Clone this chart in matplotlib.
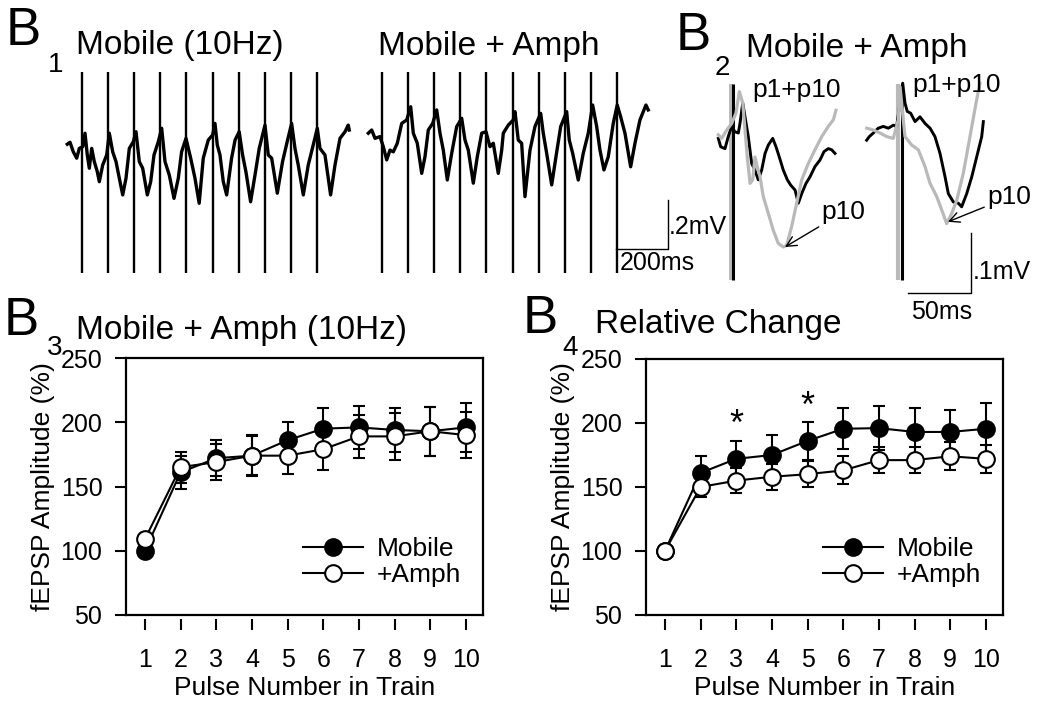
import matplotlib
matplotlib.use('Agg')
import matplotlib.pyplot as plt

plt.rcParams['font.family'] = ['Liberation Sans', 'DejaVu Sans']

W, H = 1037, 708

# ---- B1: 10 Hz field recordings (ms from 1st stimulus, mV) ----
stim_ms = [0, 100, 200, 300, 400, 500, 600, 700, 800, 900]
artifact_top, artifact_bot = 0.29, -0.53

mobile_t = [-56.3, -46.0, -33.3, -20.3, -10.3, 2.7, 11.5, 20.3, 28.0, 37.2, 47.1, 58.6,
            66.3, 79.3, 94.6, 104.6, 117.6, 130.3, 143.0, 156.0, 168.6, 181.3, 196.5,
            206.9, 219.5, 232.5, 250.2, 263.2, 275.8, 292.3, 305.3, 318.0, 334.5, 352.5,
            368.9, 381.6, 398.4, 416.4, 432.9, 449.0, 464.6, 483.8, 500.6, 509.5, 518.3,
            528.7, 541.3, 554.3, 573.1, 586.5, 602.2, 615.3, 628.0, 646.0, 662.8, 679.1,
            701.1, 713.7, 726.7, 748.3, 768.4, 786.1, 803.2, 816.0, 828.5, 847.9, 866.8,
            885.9, 901.5, 911.8, 931.0, 952.5, 969.3, 988.5, 1007.7, 1020.1, 1024.0]
mobile_mv = [-0.005, 0.003, -0.036, -0.062, -0.022, -0.015, 0.040, -0.049, -0.103, -0.022,
             -0.076, -0.117, -0.158, -0.090, -0.049, 0.040, -0.036, -0.076, -0.144, -0.212,
             -0.144, -0.022, 0.005, 0.046, -0.076, -0.103, -0.212, -0.158, -0.049, 0.005,
             0.060, -0.076, -0.131, -0.226, -0.144, -0.036, 0.019, -0.062, -0.144, -0.246,
             -0.062, 0.012, 0.033, 0.080, -0.008, -0.049, -0.158, -0.212, -0.062, 0.012,
             0.046, -0.049, -0.117, -0.240, -0.131, -0.022, 0.073, -0.049, -0.062, -0.205,
             -0.076, 0.005, 0.080, -0.022, -0.090, -0.212, -0.090, -0.008, 0.060, -0.022,
             -0.049, -0.212, -0.090, 0.019, 0.046, 0.073, 0.053]

amph_t = [-52.5, -39.5, -26.8, -7.7, 5.0, 18.0, 30.6, 43.3, 58.6, 75.5, 94.6, 110.0,
          119.9, 135.2, 152.1, 164.7, 177.4, 194.2, 209.6, 222.2, 234.8, 250.2, 267.0,
          286.2, 305.3, 318.0, 330.6, 349.8, 365.1, 382.0, 398.4, 413.7, 426.4, 445.5,
          458.6, 464.7, 483.8, 503.0, 509.5, 522.1, 535.1, 547.8, 567.0, 586.1, 608.0,
          617.9, 630.9, 650.1, 666.6, 684.6, 707.6, 717.5, 730.5, 752.0, 771.1, 790.3,
          807.1, 822.5, 835.1, 850.4, 866.9, 886.0, 901.3, 914.4, 930.9, 952.7, 969.2,
          988.3, 1011.3, 1020.1]
amph_mv = [0.040, 0.053, 0.019, 0.026, -0.015, -0.069, -0.029, -0.036, -0.001, 0.080,
           0.094, 0.148, 0.040, -0.001, -0.124, -0.056, 0.053, 0.080, 0.135, 0.040,
           -0.029, -0.151, -0.042, 0.067, 0.101, 0.012, -0.029, -0.164, -0.056, 0.040,
           0.046, -0.015, -0.001, -0.124, -0.029, 0.040, 0.073, 0.094, 0.128, 0.012,
           -0.001, -0.219, -0.029, 0.067, 0.121, 0.040, -0.042, -0.171, -0.056, 0.067,
           0.128, 0.012, -0.042, -0.151, -0.042, 0.040, 0.155, 0.067, -0.029, -0.110,
           -0.056, 0.080, 0.155, 0.107, 0.040, -0.097, -0.001, 0.094, 0.155, 0.135]

# ---- B2: p1 (black) and p10 (grey) overlays, Mobile + Amph ----
b2_art_top, b2_art_bot = 0.082, -0.245

l_p1_t = [-11.9, -10.0, -6.6, -4.0, -1.3, 1.3, 4.0, 5.3, 7.5, 9.3, 11.9, 14.6, 17.2, 19.8,
          22.5, 25.2, 27.8, 31.3, 33.9, 36.5, 39.7, 42.9, 45.6, 49.0, 51.6, 54.3, 57.7,
          60.9, 64.8, 68.8, 72.0, 75.4, 78.1, 80.7]
l_p1_mv = [-0.009, -0.023, -0.026, -0.006, 0.011, 0.002, 0.000, 0.016, 0.050, 0.027,
           -0.006, -0.051, -0.062, -0.078, -0.062, -0.034, -0.020, -0.009, -0.023, -0.040,
           -0.062, -0.078, -0.087, -0.095, -0.117, -0.101, -0.084, -0.073, -0.056, -0.045,
           -0.031, -0.026, -0.028, -0.034]
l_p10_t = [-11.9, -9.2, -5.2, -1.3, 2.1, 4.8, 7.5, 9.3, 11.1, 13.3, 15.4, 17.2, 19.0, 21.2,
           23.8, 27.8, 31.7, 35.7, 39.7, 42.4, 46.3, 50.3, 54.3, 59.5, 64.8, 70.2, 75.4,
           79.4, 81.5]
l_p10_mv = [-0.003, -0.009, 0.005, 0.016, 0.033, 0.069, 0.050, 0.005, -0.040, -0.084,
            -0.078, -0.040, -0.056, -0.073, -0.106, -0.134, -0.162, -0.184, -0.190, -0.187,
            -0.156, -0.117, -0.078, -0.051, -0.028, -0.006, 0.011, 0.022, 0.038]

r_p1_t = [-27.8, -25.7, -22.5, -18.6, -14.6, -10.6, -6.7, -4.0, 0.8, 2.6, 4.4, 7.1, 10.6,
          14.5, 18.5, 22.5, 26.4, 30.4, 34.4, 37.0, 41.0, 44.9, 47.6, 51.6, 55.6, 59.5,
          63.5, 64.8]
r_p1_mv = [-0.012, -0.006, 0.000, 0.008, 0.011, 0.008, 0.013, 0.011, 0.083, 0.050, 0.036,
           0.033, 0.019, 0.027, 0.016, 0.008, -0.006, -0.034, -0.073, -0.101, -0.115,
           -0.117, -0.123, -0.101, -0.073, -0.040, -0.006, 0.019]
r_p10_t = [-27.8, -22.5, -17.2, -11.9, -6.7, -2.7, -1.3, 2.6, 7.9, 13.2, 18.5, 22.5, 27.8,
           31.7, 35.7, 39.7, 43.7, 48.9, 54.2, 59.0, 62.1]
r_p10_mv = [0.008, 0.005, 0.000, -0.006, -0.009, 0.022, 0.077, -0.006, -0.020, -0.028,
            -0.056, -0.084, -0.106, -0.128, -0.151, -0.134, -0.112, -0.067, -0.006, 0.050,
            0.083]

# ---- B3 / B4: fEPSP amplitude per pulse ----
pulses = [1, 2, 3, 4, 5, 6, 7, 8, 9, 10]
b3_mobile = [100, 161, 172, 174, 186, 195, 196, 194, 193, 196]
b3_mobile_err = [0, 13, 14, 16, 14, 16, 17, 17, 19, 19]
b3_amph = [109, 165, 169, 174, 174, 179, 189, 189, 193, 190]
b3_amph_err = [0, 12, 14, 15, 14, 16, 17, 18, 19, 18]
b4_mobile = [100, 161, 172, 175, 186, 195.5, 196, 193, 193, 195.5]
b4_mobile_err = [0, 13, 14, 16, 15, 16, 17, 19, 17, 20]
b4_amph = [100, 150, 155, 158, 160, 163, 171, 171, 174, 172]
b4_amph_err = [0, 8, 10, 10, 10, 11, 10, 10, 11, 11]
star_pulses = [3, 5]
star_y = [198, 212]

GREY = '#b9b9b9'

fig = plt.figure(figsize=(W / 100, H / 100), dpi=100)


def fx(x):
    return x / W


def fy(y):
    return 1 - y / H


def trace_axes(x0, y0, xlim, ylim, px_ms, px_mv):
    # put data (0, 0) at pixel (x0, y0) with the given scale
    left = x0 + xlim[0] * px_ms
    right = x0 + xlim[1] * px_ms
    top = y0 - ylim[1] * px_mv
    bottom = y0 - ylim[0] * px_mv
    ax = fig.add_axes([fx(left), fy(bottom), (right - left) / W, (bottom - top) / H])
    ax.set_xlim(*xlim)
    ax.set_ylim(*ylim)
    ax.axis('off')
    return ax


# B1 traces
ax1 = trace_axes(82, 143, (-70, 1050), (-0.6, 0.35), 0.261, 245)
ax1.vlines(stim_ms, artifact_bot, artifact_top, color='k', lw=1.7)
ax1.plot(mobile_t, mobile_mv, color='k', lw=2.4, solid_joinstyle='round')

ax2 = trace_axes(382, 143, (-70, 1120), (-0.6, 0.35), 0.261, 245)
ax2.vlines(stim_ms, artifact_bot, artifact_top, color='k', lw=1.7)
ax2.plot(amph_t, amph_mv, color='k', lw=2.4, solid_joinstyle='round')
ax2.plot([896, 1096, 1096], [-0.433, -0.433, -0.233], color='k', lw=1.0)
ax2.text(1100, -0.343, '.2mV', fontsize=18, ha='left', va='center')
ax2.text(910, -0.49, '200ms', fontsize=18, ha='left', va='center')

# B2 overlays
ax3 = trace_axes(733.3, 133, (-15, 85), (-0.27, 0.1), 1.26, 600)
ax3.vlines([-1.5], b2_art_bot, b2_art_top, color=GREY, lw=2.8)
ax3.vlines([0], b2_art_bot, b2_art_top, color='k', lw=2.2)
ax3.plot(l_p1_t, l_p1_mv, color='k', lw=2.1, solid_joinstyle='round')
ax3.plot(l_p10_t, l_p10_mv, color=GREY, lw=2.3, solid_joinstyle='round')
ax3.text(14.8, 0.072, 'p1+p10', fontsize=19, ha='left', va='center')
ax3.annotate('p10', xy=(41, -0.19), xytext=(70, -0.132), fontsize=19, ha='left', va='center',
             arrowprops=dict(arrowstyle='->', color='k', lw=1.0, shrinkA=0, shrinkB=0,
                             mutation_scale=18))

ax4 = trace_axes(901.7, 133, (-30, 105), (-0.27, 0.1), 1.26, 600)
ax4.vlines([-3.2], b2_art_bot, b2_art_top, color=GREY, lw=3.0)
ax4.vlines([0], b2_art_bot, b2_art_top, color='k', lw=2.2)
ax4.plot(r_p1_t, r_p1_mv, color='k', lw=2.1, solid_joinstyle='round')
ax4.plot(r_p10_t, r_p10_mv, color=GREY, lw=2.3, solid_joinstyle='round')
ax4.text(8.2, 0.080, 'p1+p10', fontsize=19, ha='left', va='center')
ax4.annotate('p10', xy=(36.7, -0.148), xytext=(67.7, -0.107), fontsize=19, ha='left',
             va='center',
             arrowprops=dict(arrowstyle='->', color='k', lw=1.0, shrinkA=0, shrinkB=0,
                             mutation_scale=18))
ax4.plot([5, 55, 55], [-0.267, -0.267, -0.167], color='k', lw=1.0, clip_on=False)
ax4.text(56.5, -0.232, '.1mV', fontsize=18, ha='left', va='center')
ax4.text(32, -0.298, '50ms', fontsize=18, ha='center', va='center')


def rate_panel(left, top, right, bottom, mob, mob_err, amp, amp_err):
    ax = fig.add_axes([fx(left), fy(bottom), (right - left) / W, (bottom - top) / H])
    ekw = dict(fmt='none', ecolor='k', elinewidth=1.5, capsize=4, capthick=1.5,
               errorevery=(1, 1))
    ax.errorbar(pulses, mob, yerr=mob_err, zorder=2, **ekw)
    ax.errorbar(pulses, amp, yerr=amp_err, zorder=2, **ekw)
    ax.plot(pulses, mob, '-o', color='k', mfc='k', mec='k', ms=12, lw=1.5, mew=1.5,
            label='Mobile', zorder=3)
    ax.plot(pulses, amp, '-o', color='k', mfc='white', mec='k', ms=12, lw=1.5, mew=1.5,
            label='+Amph', zorder=4)
    ax.set_xlim(0.47, 10.48)
    ax.set_ylim(50, 250)
    ax.set_yticks([50, 100, 150, 200, 250])
    for s in ax.spines.values():
        s.set_linewidth(1.6)
    ax.tick_params(axis='x', bottom=False, labelbottom=False)
    ax.tick_params(axis='y', length=8, width=1.5, pad=9, labelsize=18)
    ax.set_ylabel('fEPSP Amplitude (%)', fontsize=19, labelpad=4)
    sec = ax.secondary_xaxis(-3.5 / (bottom - top))
    sec.set_xticks(pulses)
    sec.spines['bottom'].set_visible(False)
    sec.tick_params(length=8, width=1.5, pad=13, labelsize=18)
    sec.set_xlabel('Pulse Number in Train', fontsize=19, labelpad=3)
    ax.legend(loc='upper left', bbox_to_anchor=(0.495, 0.304), frameon=False, fontsize=19,
              handlelength=2.3, handletextpad=0.5, labelspacing=0.08, borderpad=0,
              borderaxespad=0)
    return ax


ax5 = rate_panel(126, 358, 483, 615, b3_mobile, b3_mobile_err, b3_amph, b3_amph_err)
ax6 = rate_panel(646, 359, 1003, 615, b4_mobile, b4_mobile_err, b4_amph, b4_amph_err)
for xp, yp in zip(star_pulses, star_y):
    ax6.text(xp, yp, '*', fontsize=26, ha='center', va='center')

# panel letters and titles
panel_text = [
    ('B', 6, 45, 38), ('1', 48, 72, 20), ('Mobile (10Hz)', 76, 54, 24),
    ('Mobile + Amph', 378, 55, 24),
    ('B', 676, 50, 38), ('2', 715, 75, 20), ('Mobile + Amph', 746, 57, 24),
    ('B', 4, 335, 38), ('3', 47, 355, 20), ('Mobile + Amph (10Hz)', 76, 339, 24),
    ('B', 523, 333, 38), ('4', 562, 355, 20), ('Relative Change', 595, 333, 24),
]
for s, x, y, size in panel_text:
    fig.text(fx(x), fy(y), s, fontsize=size, ha='left', va='baseline')

fig.savefig('out.png', dpi=100)
